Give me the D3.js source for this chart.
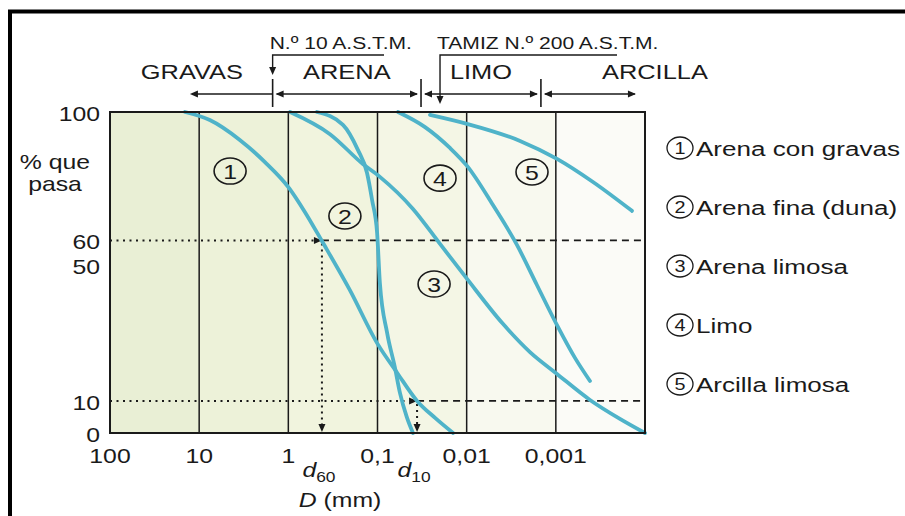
<!DOCTYPE html>
<html>
<head>
<meta charset="utf-8">
<script src="https://cdn.jsdelivr.net/npm/d3@7"></script>
<style>
  html, body { margin: 0; padding: 0; background: #fff; }
  svg { display: block; font-family: "Liberation Sans", Arial, sans-serif; }
</style>
</head>
<body>
<div id="chart"></div>
<script>
// grain size (mm) on x, % que pasa on y
var sizeTicks = [100, 10, 1, 0.1, 0.01, 0.001];
var sizeTickLabels = ["100", "10", "1", "0,1", "0,01", "0,001"];
var passTicks = [0, 10, 50, 60, 100];

var soilNames = ["Arena con gravas", "Arena fina (duna)", "Arena limosa", "Limo", "Arcilla limosa"];

// one curve per soil
var soil1D = [14.4, 7.6, 3.5, 1.83, 0.98, 0.65, 0.42, 0.204, 0.101, 0.060, 0.036, 0.0226, 0.0142];
var soil1P = [100, 97.5, 91.3, 84.4, 76.3, 68.8, 59.8, 44.5, 28.0, 18.7, 10.0, 4.7, 0];
var soil2D = [0.477, 0.244, 0.166, 0.131, 0.115, 0.101, 0.094, 0.078, 0.064, 0.056, 0.047, 0.040];
var soil2P = [100, 96.0, 88.2, 81.0, 72.6, 62.3, 46.7, 31.2, 20.6, 12.5, 5.0, 0];
var soil3D = [0.957, 0.341, 0.146, 0.094, 0.040, 0.0199, 0.0099, 0.00392, 0.00195, 0.00097, 0.000414, 0.000191, 0.0001];
var soil3P = [100, 93.1, 83.8, 79.8, 69.8, 58.9, 48.0, 34.0, 25.2, 18.4, 10.3, 4.4, 0];
var soil4D = [0.0589, 0.0293, 0.0154, 0.0099, 0.00507, 0.00273, 0.00163, 0.00097, 0.00061, 0.000414];
var soil4P = [100, 95.3, 88.8, 83.2, 71.0, 58.6, 46.1, 33.6, 23.4, 16.2];
var soil5D = [0.0258, 0.0099, 0.00252, 0.00097, 0.000383, 0.00014];
var soil5P = [99.1, 96.3, 91.0, 85.4, 78.2, 69.2];

var zoneNames = ["GRAVAS", "ARENA", "LIMO", "ARCILLA"];
var zoneLimits = [12.7, 1.5, 0.0325, 0.00147, 0.000117];
var sieveNames = ["N.º 10 A.S.T.M.", "TAMIZ N.º 200 A.S.T.M."];
var sieveSizes = [1.5, 0.0199];

var d60 = 0.42, d10 = 0.036;

var W = 905, H = 516;
var SX = 1.24; // the original figure is stretched sideways
var ink = "#1a1a1a";
var curveColor = "#4fb3c9";

var svg = d3.select("#chart").append("svg")
  .attr("width", W).attr("height", H);

var x = d3.scaleLog().domain([100, 0.0001]).range([110, 645]);
var y = d3.scaleLinear().domain([0, 100]).range([433, 112]);

function txt(g, px, py, s, size, anchor) {
  return g.append("text")
    .attr("transform", "translate(" + px + "," + py + ") scale(" + SX + ",1)")
    .attr("text-anchor", anchor || "start")
    .attr("dominant-baseline", "central")
    .attr("fill", ink)
    .style("font-size", size + "px")
    .text(s);
}

// small filled arrow head, tip at (px,py)
function head(px, py, dir) {
  var L = 8, w = 3.5, p;
  if (dir == "left") p = [[px, py], [px + L, py - w], [px + L, py + w]];
  else if (dir == "right") p = [[px, py], [px - L, py - w], [px - L, py + w]];
  else p = [[px, py], [px - w, py - L], [px + w, py - L]];
  svg.append("path").attr("d", "M" + p.join("L") + "Z").attr("fill", ink);
}

// outer frame of the scanned page
svg.append("line").attr("x1", 8).attr("x2", W).attr("y1", 11.5).attr("y2", 11.5)
  .attr("stroke", "#000").attr("stroke-width", 4);
svg.append("line").attr("x1", 10).attr("x2", 10).attr("y1", 10).attr("y2", H)
  .attr("stroke", "#000").attr("stroke-width", 4);

// tinted decades
var tints = ["#e9efd5", "#edf2d9", "#f1f4de", "#f4f6e5", "#f8f9ef", "#fbfbf7"];
var decades = [100, 10, 1, 0.1, 0.01, 0.001, 0.0001];
svg.selectAll("rect.tint").data(tints).enter().append("rect")
  .attr("class", "tint")
  .attr("x", function(d, i) { return x(decades[i]); })
  .attr("width", function(d, i) { return x(decades[i + 1]) - x(decades[i]); })
  .attr("y", y(100)).attr("height", y(0) - y(100))
  .attr("fill", function(d) { return d; });

// vertical grid
svg.selectAll("line.grid").data(sizeTicks.slice(1)).enter().append("line")
  .attr("class", "grid")
  .attr("x1", function(d) { return x(d); }).attr("x2", function(d) { return x(d); })
  .attr("y1", y(100)).attr("y2", y(0))
  .attr("stroke", ink).attr("stroke-width", 1.5);

// d60 / d10 guides
[[60, d60], [10, d10]].forEach(function(m) {
  var yy = y(m[0]), xx = x(m[1]);
  svg.append("line").attr("x1", x(100)).attr("x2", xx - 8).attr("y1", yy).attr("y2", yy)
    .attr("stroke", ink).attr("stroke-width", 2).attr("stroke-dasharray", "2,4.5");
  head(xx, yy, "right");
  svg.append("line").attr("x1", xx).attr("x2", x(0.0001)).attr("y1", yy).attr("y2", yy)
    .attr("stroke", ink).attr("stroke-width", 1.6).attr("stroke-dasharray", "7,5");
  svg.append("line").attr("x1", xx).attr("x2", xx).attr("y1", yy + 3).attr("y2", y(0) - 8)
    .attr("stroke", ink).attr("stroke-width", 2).attr("stroke-dasharray", "2,4");
  head(xx, y(0) - 1, "down");
});

// curves
var curveData = [
  [soil1D, soil1P], [soil2D, soil2P], [soil3D, soil3P], [soil4D, soil4P], [soil5D, soil5P]
];
var line = d3.line()
  .x(function(d) { return x(d[0]); })
  .y(function(d) { return y(d[1]); })
  .curve(d3.curveMonotoneX);
svg.selectAll("path.soil").data(curveData).enter().append("path")
  .attr("class", "soil")
  .attr("d", function(c) { return line(d3.zip(c[0], c[1])); })
  .attr("fill", "none").attr("stroke", curveColor).attr("stroke-width", 3.8)
  .attr("stroke-linecap", "round");

// plot frame
svg.append("rect").attr("x", x(100)).attr("y", y(100))
  .attr("width", x(0.0001) - x(100)).attr("height", y(0) - y(100))
  .attr("fill", "none").attr("stroke", ink).attr("stroke-width", 2);

// circled curve numbers inside the plot
var labelAt = [[4.5, 81.6], [0.232, 67.6], [0.0232, 46.4], [0.0199, 79.4], [0.00185, 81.3]];
labelAt.forEach(function(p, i) {
  var cx = x(p[0]), cy = y(p[1]);
  svg.append("ellipse").attr("cx", cx).attr("cy", cy).attr("rx", 16).attr("ry", 13)
    .attr("fill", "none").attr("stroke", ink).attr("stroke-width", 1.6);
  txt(svg, cx, cy + 1, String(i + 1), 20, "middle");
});

// axes labels
sizeTicks.forEach(function(d, i) {
  txt(svg, x(d), 456, sizeTickLabels[i], 20, "middle");
});
passTicks.forEach(function(d) {
  txt(svg, 100, y(d) + (d == 50 ? -5 : 2), String(d), 20, "end");
});
txt(svg, 55, 162, "% que", 20, "middle");
txt(svg, 55, 184, "pasa", 20, "middle");

var dl = svg.append("text")
  .attr("transform", "translate(340,500) scale(" + SX + ",1)")
  .attr("text-anchor", "middle").attr("dominant-baseline", "central")
  .attr("fill", ink).style("font-size", "20px");
dl.append("tspan").style("font-style", "italic").text("D");
dl.append("tspan").text(" (mm)");

[[d60, "60"], [d10, "10"]].forEach(function(m) {
  var t = svg.append("text")
    .attr("transform", "translate(" + (x(m[0]) - 3) + ",470) scale(" + SX + ",1)")
    .attr("text-anchor", "middle").attr("dominant-baseline", "central")
    .attr("fill", ink).style("font-size", "20px");
  t.append("tspan").style("font-style", "italic").text("d");
  t.append("tspan").attr("dy", 7).style("font-size", "14px").text(m[1]);
});

// zones along the top
var arrowY = 94;
zoneNames.forEach(function(name, i) {
  var a = x(zoneLimits[i]), b = x(zoneLimits[i + 1]);
  if (i == 0) {
    svg.append("line").attr("x1", a + 4).attr("x2", b).attr("y1", arrowY).attr("y2", arrowY)
      .attr("stroke", ink).attr("stroke-width", 1.4);
    head(a, arrowY, "left");
    txt(svg, a + 2, 72, name, 20.5, "middle");
  } else {
    svg.append("line").attr("x1", a + 4).attr("x2", b - 4).attr("y1", arrowY).attr("y2", arrowY)
      .attr("stroke", ink).attr("stroke-width", 1.4);
    head(a + 3, arrowY, "left");
    head(b - 3, arrowY, "right");
    txt(svg, i == 3 ? b + 16 : (a + b) / 2, 72, name, 20.5, "middle");
  }
});
zoneLimits.slice(1, 4).forEach(function(d) {
  svg.append("line").attr("x1", x(d)).attr("x2", x(d)).attr("y1", 79).attr("y2", 107)
    .attr("stroke", ink).attr("stroke-width", 1.6);
});

// sieve brackets
var bracketEnd = [384, 617];
var tipY = [75, 104];
sieveSizes.forEach(function(d, i) {
  var sx = x(d);
  svg.append("path")
    .attr("d", "M" + bracketEnd[i] + ",55H" + sx + "V" + (tipY[i] - 7))
    .attr("fill", "none").attr("stroke", ink).attr("stroke-width", 1.4);
  head(sx, tipY[i], "down");
  txt(svg, sx - 3, 43, sieveNames[i], 17, "start");
});

// legend
soilNames.forEach(function(name, i) {
  var cy = 148 + i * 59;
  svg.append("ellipse").attr("cx", 680).attr("cy", cy).attr("rx", 13).attr("ry", 11)
    .attr("fill", "none").attr("stroke", ink).attr("stroke-width", 1.3);
  txt(svg, 680, cy + 1, String(i + 1), 16, "middle");
  txt(svg, 696, cy + 1, name, 21, "start");
});
</script>
</body>
</html>
